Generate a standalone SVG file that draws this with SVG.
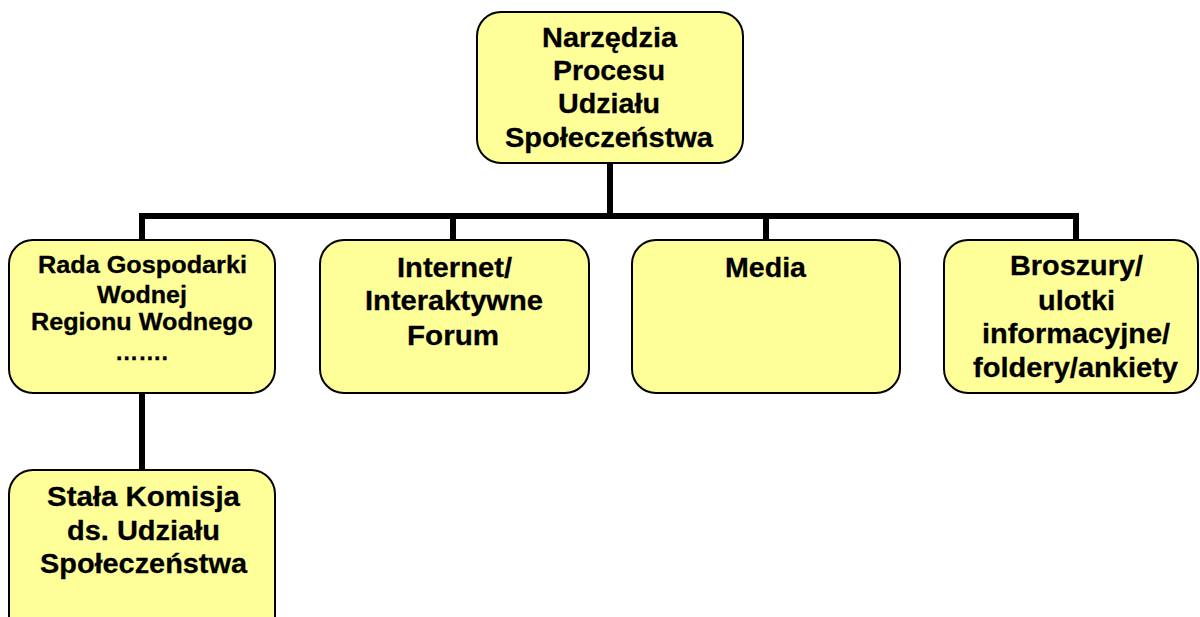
<svg xmlns="http://www.w3.org/2000/svg" width="1200" height="617" viewBox="0 0 1200 617">
<style>
.box{fill:#FFFF99;stroke:#000;stroke-width:2}
.t{font-family:"Liberation Sans",Arial,sans-serif;font-weight:bold;fill:#000;text-anchor:middle;stroke:#000;stroke-width:0.3}
.big{font-size:28px}
.sm{font-size:23px}
.conn{fill:none;stroke:#000;stroke-width:6;stroke-linejoin:miter;stroke-linecap:butt}
</style>
<rect width="1200" height="617" fill="#fff"/>
<g id="connectors">
<path class="conn" d="M610 163 V216"/>
<path class="conn" d="M142 240 V216 H1076 V240"/>
<path class="conn" d="M453 216 V240"/>
<path class="conn" d="M766 216 V240"/>
<path class="conn" d="M142 393 V470"/>
</g>
<g id="root">
<rect class="box" x="477" y="12" width="266" height="151" rx="24"/>
<text class="t big" x="609.5" y="47" textLength="135" lengthAdjust="spacingAndGlyphs">Narzędzia</text>
<text class="t big" x="609" y="80" textLength="112" lengthAdjust="spacingAndGlyphs">Procesu</text>
<text class="t big" x="609" y="113" textLength="102" lengthAdjust="spacingAndGlyphs">Udziału</text>
<text class="t big" x="609" y="147" textLength="208" lengthAdjust="spacingAndGlyphs">Społeczeństwa</text>
</g>
<g id="rada">
<rect class="box" x="9" y="240" width="266" height="153" rx="24"/>
<text class="t sm" x="142.5" y="273" textLength="209" lengthAdjust="spacingAndGlyphs">Rada Gospodarki</text>
<text class="t sm" x="142" y="303" textLength="90" lengthAdjust="spacingAndGlyphs">Wodnej</text>
<text class="t sm" x="142" y="330" textLength="222" lengthAdjust="spacingAndGlyphs">Regionu Wodnego</text>
<text class="t sm" x="141.5" y="360" textLength="53" lengthAdjust="spacingAndGlyphs">…….</text>
</g>
<g id="internet">
<rect class="box" x="320" y="240" width="269" height="153" rx="24"/>
<text class="t big" x="454.5" y="277" textLength="115" lengthAdjust="spacingAndGlyphs">Internet/</text>
<text class="t big" x="454" y="310" textLength="178" lengthAdjust="spacingAndGlyphs">Interaktywne</text>
<text class="t big" x="453" y="345" textLength="92" lengthAdjust="spacingAndGlyphs">Forum</text>
</g>
<g id="media">
<rect class="box" x="632" y="240" width="268" height="153" rx="24"/>
<text class="t big" x="765.5" y="277" textLength="81" lengthAdjust="spacingAndGlyphs">Media</text>
</g>
<g id="broszury">
<rect class="box" x="944" y="240" width="254" height="153" rx="24"/>
<text class="t big" x="1076.5" y="275" textLength="133" lengthAdjust="spacingAndGlyphs">Broszury/</text>
<text class="t big" x="1076.5" y="310" textLength="77" lengthAdjust="spacingAndGlyphs">ulotki</text>
<text class="t big" x="1076" y="343" textLength="188" lengthAdjust="spacingAndGlyphs">informacyjne/</text>
<text class="t big" x="1075.5" y="377" textLength="205" lengthAdjust="spacingAndGlyphs">foldery/ankiety</text>
</g>
<g id="stala">
<rect class="box" x="9" y="470" width="266" height="170" rx="24"/>
<text class="t big" x="143.5" y="506" textLength="193" lengthAdjust="spacingAndGlyphs">Stała Komisja</text>
<text class="t big" x="143.5" y="540" textLength="153" lengthAdjust="spacingAndGlyphs">ds. Udziału</text>
<text class="t big" x="143.5" y="573" textLength="207" lengthAdjust="spacingAndGlyphs">Społeczeństwa</text>
</g>
</svg>
